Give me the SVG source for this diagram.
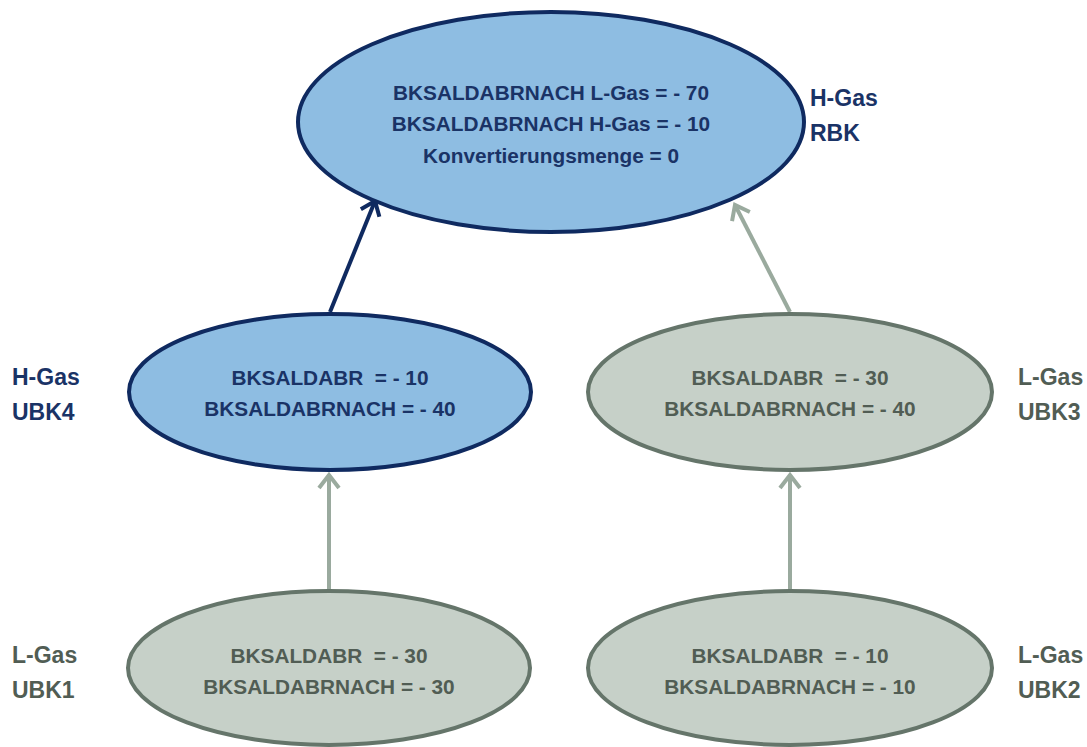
<svg xmlns="http://www.w3.org/2000/svg" width="1087" height="747" viewBox="0 0 1087 747">
<style>
text{font-family:"Liberation Sans",Arial,sans-serif;font-weight:bold;font-size:20.8px;text-anchor:middle}
.blue ellipse{fill:#8EBDE2;stroke:#0F2A60;stroke-width:4}
.gray ellipse{fill:#C6D0C8;stroke:#65756A;stroke-width:4}
.blue text{fill:#1A3366}
.gray text{fill:#515D54}
.lab{text-anchor:start;font-size:23px}
</style>
<defs>
<marker id="ab" markerWidth="22" markerHeight="24" refX="15" refY="12" orient="auto" markerUnits="userSpaceOnUse">
<path d="M2,2 L15,12 L2,22" fill="none" stroke="#0F2A60" stroke-width="4"/>
</marker>
<marker id="ag" markerWidth="22" markerHeight="24" refX="15" refY="12" orient="auto" markerUnits="userSpaceOnUse">
<path d="M2,2 L15,12 L2,22" fill="none" stroke="#9AAA9E" stroke-width="4"/>
</marker>
</defs>
<rect width="1087" height="747" fill="#FFFFFF"/>
<g id="connectors" fill="none" stroke-width="4">
<line x1="330" y1="312" x2="375" y2="201" stroke="#0F2A60" marker-end="url(#ab)"/>
<line x1="790" y1="312" x2="735" y2="205" stroke="#9AAA9E" marker-end="url(#ag)"/>
<line x1="329" y1="589" x2="329" y2="475" stroke="#9AAA9E" marker-end="url(#ag)"/>
<line x1="790" y1="589" x2="790" y2="475" stroke="#9AAA9E" marker-end="url(#ag)"/>
</g>
<g id="rbk" class="blue">
<ellipse cx="551" cy="122" rx="253" ry="110"/>
<text x="551" y="100">BKSALDABRNACH L-Gas = - 70</text>
<text x="551" y="131">BKSALDABRNACH H-Gas = - 10</text>
<text x="551" y="163">Konvertierungsmenge = 0</text>
<text class="lab" x="810" y="106">H-Gas</text>
<text class="lab" x="810" y="141">RBK</text>
</g>
<g id="ubk4" class="blue">
<ellipse cx="330" cy="392" rx="201" ry="78"/>
<text x="330" y="385">BKSALDABR&#160; = - 10</text>
<text x="330" y="416">BKSALDABRNACH = - 40</text>
<text class="lab" x="12" y="385">H-Gas</text>
<text class="lab" x="12" y="420">UBK4</text>
</g>
<g id="ubk3" class="gray">
<ellipse cx="790" cy="392" rx="202" ry="78"/>
<text x="790" y="385">BKSALDABR&#160; = - 30</text>
<text x="790" y="416">BKSALDABRNACH = - 40</text>
<text class="lab" x="1018" y="385">L-Gas</text>
<text class="lab" x="1018" y="420">UBK3</text>
</g>
<g id="ubk1" class="gray">
<ellipse cx="329" cy="668" rx="201" ry="77"/>
<text x="329" y="663">BKSALDABR&#160; = - 30</text>
<text x="329" y="694">BKSALDABRNACH = - 30</text>
<text class="lab" x="12" y="663">L-Gas</text>
<text class="lab" x="12" y="698">UBK1</text>
</g>
<g id="ubk2" class="gray">
<ellipse cx="790" cy="668" rx="202" ry="77"/>
<text x="790" y="663">BKSALDABR&#160; = - 10</text>
<text x="790" y="694">BKSALDABRNACH = - 10</text>
<text class="lab" x="1018" y="663">L-Gas</text>
<text class="lab" x="1018" y="698">UBK2</text>
</g>
</svg>
